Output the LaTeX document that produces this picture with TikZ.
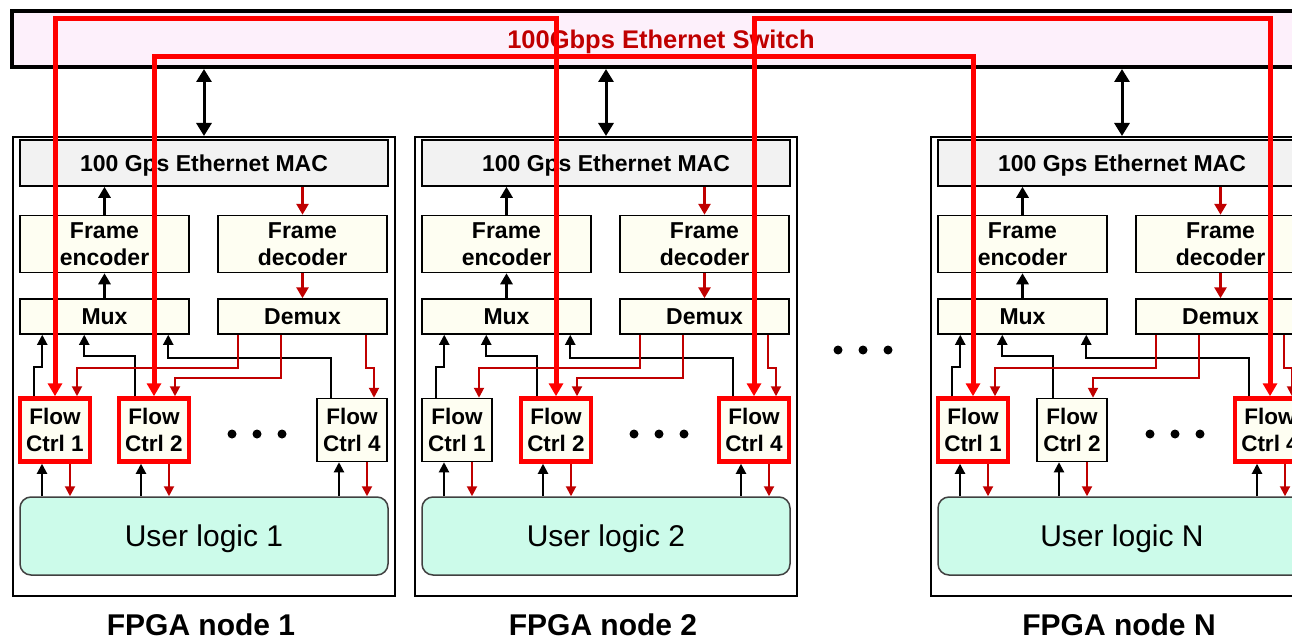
\documentclass[tikz,border=0pt]{standalone}
\usepackage{fontspec}
\setmainfont{Liberation Sans}
\usetikzlibrary{arrows.meta,calc}

\definecolor{swfill}{HTML}{FDF0FB}
\definecolor{macfill}{HTML}{F2F2F2}
\definecolor{cream}{HTML}{FEFEF2}
\definecolor{mint}{HTML}{CCFBEA}
\definecolor{dkred}{HTML}{C00000}
\definecolor{hotred}{HTML}{FF0000}
\definecolor{ulline}{HTML}{404040}

\tikzset{
  blockfont/.style={font=\bfseries\fontsize{23}{27}\selectfont},
  blk/.style={draw=black, line width=1.5pt, inner sep=0pt, align=center, blockfont},
  oneline/.style={text height=16.5pt, text depth=0pt},
  macbox/.style={blk, oneline, fill=macfill, minimum width=368pt, minimum height=46pt},
  codec/.style={blk, fill=cream, minimum width=169pt, minimum height=57pt},
  muxbox/.style={blk, oneline, fill=cream, minimum width=169pt, minimum height=35pt},
  fcbox/.style={blk, fill=cream, minimum width=70pt, minimum height=63pt,
    font=\bfseries\fontsize{22.5}{27}\selectfont},
  fchot/.style={fcbox, draw=hotred, line width=4.5pt},
  ulbox/.style={draw=ulline, line width=1.5pt, fill=mint, rounded corners=11pt,
    minimum width=368pt, minimum height=78pt, inner sep=0pt,
    text height=21.5pt, text depth=0pt, font=\fontsize{30}{36}\selectfont},
  fpgaframe/.style={draw=black, line width=2pt, minimum width=382pt, minimum height=459pt, inner sep=0pt},
  nodecap/.style={inner sep=0pt, text height=21.5pt, text depth=0pt,
    font=\bfseries\fontsize{30}{36}\selectfont},
  switchbox/.style={draw=black, line width=4pt, fill=swfill, minimum width=1298pt,
    minimum height=56pt, inner sep=0pt, text=dkred, text height=18.3pt, text depth=0pt,
    font=\bfseries\fontsize{25.5}{30}\selectfont},
  fatblk/.style={line width=3.5pt, -{Triangle[width=12pt,length=11pt]}},
  fatred/.style={fatblk, draw=dkred},
  thinblk/.style={line width=2pt, -{Triangle[width=10pt,length=10pt]}},
  thinred/.style={thinblk, draw=dkred},
  duplex/.style={line width=3pt, {Triangle[width=15pt,length=13pt]}-{Triangle[width=15pt,length=13pt]}},
  link/.style={draw=hotred, line width=5pt, {Triangle[width=14pt,length=13pt]}-{Triangle[width=14pt,length=13pt]}},
}

% #1 left edge, #2 name prefix, #3 caption, #4 user logic text,
% #5-#7 styles of flow controls 1, 2 and 4
\newcommand\fpganode[7]{%
\begin{scope}[shift={(#1,0)}]
  \node[fpgaframe] (#2frame) at (191,366.5) {};
  \node[macbox] (#2mac) at (191,163) {100 Gps Ethernet MAC};
  \node[codec] (#2enc) at (91.5,244) {Frame\\encoder};
  \node[codec] (#2dec) at (289.5,244) {Frame\\decoder};
  \node[muxbox] (#2mux) at (91.5,316.5) {Mux};
  \node[muxbox] (#2dmx) at (289.5,316.5) {Demux};
  \node[#5] (#2fc1) at (42,430) {Flow\\Ctrl 1};
  \node[#6] (#2fc2) at (141,430) {Flow\\Ctrl 2};
  \node[#7] (#2fc4) at (339,430) {Flow\\Ctrl 4};
  \node[ulbox] (#2ul) at (191,536) {#4};
  \node[nodecap] (#2cap) at (188,625) {#3};
  \foreach \dx in {219,244,269} \fill (\dx,434) circle (4.5pt);
  % switch port
  \draw[duplex] (sw.south -| #2frame.north) -- (#2frame.north);
  % MAC, codecs and (de)multiplexers
  \draw[fatblk] (#2enc.north) -- (#2enc.north |- #2mac.south);
  \draw[fatred] (#2dec.north |- #2mac.south) -- (#2dec.north);
  \draw[fatblk] (#2mux.north) -- (#2enc.south);
  \draw[fatred] (#2dec.south) -- (#2dmx.north);
  % flow controls up to the mux
  \draw[thinblk] ($(#2fc1.north)+(-21,0)$) |- ($(#2mux.south west)+(23,32)$) -- ($(#2mux.south west)+(23,0)$);
  \draw[thinblk] ($(#2fc2.north)+(-19,0)$) |- ($(#2mux.south west)+(65,21)$) -- ($(#2mux.south west)+(65,0)$);
  \draw[thinblk] ($(#2fc4.north)+(-21,0)$) |- ($(#2mux.south west)+(149,23)$) -- ($(#2mux.south west)+(149,0)$);
  % demux down to the flow controls
  \draw[thinred] ($(#2dmx.south west)+(21,0)$) -- ($(#2dmx.south west)+(21,33)$) -| ($(#2fc1.north)+(22,0)$);
  \draw[thinred] ($(#2dmx.south west)+(64,0)$) -- ($(#2dmx.south west)+(64,43)$) -| ($(#2fc2.north)+(21,0)$);
  \draw[thinred] ($(#2dmx.south west)+(149,0)$) -- ($(#2dmx.south west)+(149,33)$) -| ($(#2fc4.north)+(22,0)$);
  % flow controls and user logic
  \foreach \f in {fc1,fc2,fc4}{
    \coordinate (#2\f u) at ($(#2\f.south)+(-13,0)$);
    \coordinate (#2\f d) at ($(#2\f.south)+(15,0)$);
    \draw[thinblk] (#2\f u |- #2ul.north) -- (#2\f u);
    \draw[thinred] (#2\f d) -- (#2\f d |- #2ul.north);
  }
\end{scope}}

\begin{document}
\begin{tikzpicture}[x=1pt,y=-1pt]
  \useasboundingbox (0,0) rectangle (1292,639);
  \clip (0,0) rectangle (1292,639);
  \node[switchbox] (sw) at (661,39) {100Gbps Ethernet Switch};
  \fpganode{13}{n1}{FPGA node 1}{User logic 1}{fchot}{fchot}{fcbox}
  \fpganode{415}{n2}{FPGA node 2}{User logic 2}{fcbox}{fchot}{fchot}
  \fpganode{931}{nN}{FPGA node N}{User logic N}{fchot}{fcbox}{fchot}
  \foreach \dx in {838,863,888} \fill (\dx,350) circle (4.5pt);
  % links through the switch
  \coordinate (hiA) at (0,19);
  \coordinate (hiB) at (0,57);
  \draw[link] (n1fc1.north) |- (n2fc2.north |- hiA) -- (n2fc2.north);
  \draw[link] (n1fc2.north) |- (nNfc1.north |- hiB) -- (nNfc1.north);
  \draw[link] (n2fc4.north) |- (nNfc4.north |- hiA) -- (nNfc4.north);
\end{tikzpicture}
\end{document}
